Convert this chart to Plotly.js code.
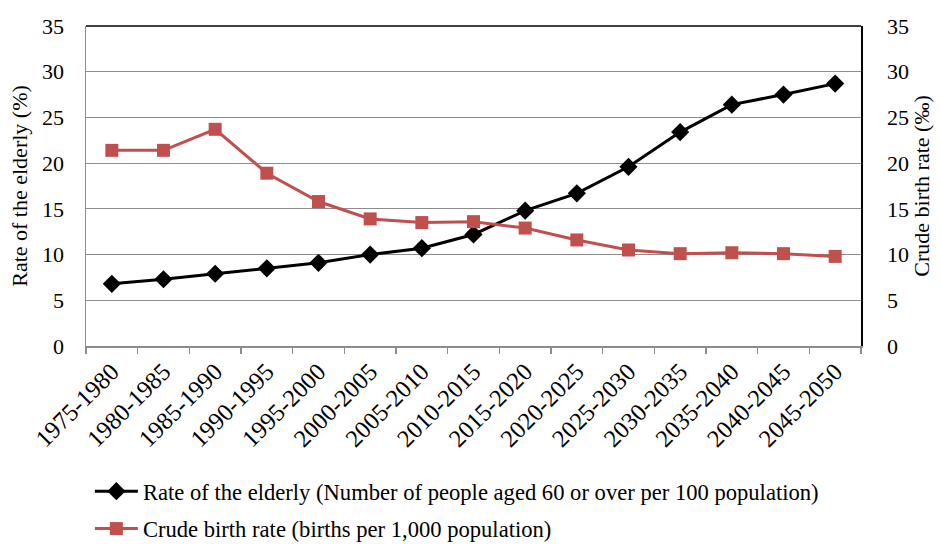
<!DOCTYPE html>
<html>
<head>
<meta charset="utf-8">
<script src="https://cdn.plot.ly/plotly-3.0.1.min.js"></script>
<style>
  html, body { margin: 0; padding: 0; background: #fff; }
  #chart { width: 941px; height: 544px; }
</style>
</head>
<body>
<div id="chart"></div>
<script>
// Five-year periods
const periods = [
  "1975-1980", "1980-1985", "1985-1990", "1990-1995", "1995-2000",
  "2000-2005", "2005-2010", "2010-2015", "2015-2020", "2020-2025",
  "2025-2030", "2030-2035", "2035-2040", "2040-2045", "2045-2050"
];

// People aged 60 or over per 100 population (%)
const elderlyRate = [6.8, 7.3, 7.9, 8.5, 9.1, 10.0, 10.7, 12.2, 14.8, 16.7, 19.6, 23.4, 26.4, 27.5, 28.7];

// Births per 1,000 population (‰)
const birthRate = [21.4, 21.4, 23.7, 18.9, 15.8, 13.9, 13.5, 13.6, 12.9, 11.6, 10.5, 10.1, 10.2, 10.1, 9.8];

const yTicks = [0, 5, 10, 15, 20, 25, 30, 35];

const serif = "Liberation Serif";
const txt = (size) => ({ family: serif, size: size, color: "#000000" });

const traces = [
  {
    x: periods,
    y: elderlyRate,
    name: "Rate of the elderly (Number of people aged 60 or over per 100 population)",
    legendgroup: "elderly",
    type: "scatter",
    mode: "lines+markers",
    line: { color: "#000000", width: 3 },
    marker: { symbol: "diamond", size: 14, color: "#000000" },
    yaxis: "y"
  },
  {
    x: periods,
    y: birthRate,
    name: "Crude birth rate (births per 1,000 population)",
    legendgroup: "birth",
    type: "scatter",
    mode: "lines+markers",
    line: { color: "#C0504D", width: 3 },
    marker: { symbol: "square", size: 13, color: "#C0504D" },
    yaxis: "y2"
  }
];

const layout = {
  width: 941,
  height: 544,
  margin: { l: 86, r: 80, t: 26, b: 198, autoexpand: false },
  paper_bgcolor: "#ffffff",
  plot_bgcolor: "#ffffff",
  font: txt(22),
  showlegend: true,
  legend: {
    orientation: "v",
    xref: "paper",
    x: 0.005,
    xanchor: "left",
    yref: "container",
    y: 0.136,
    yanchor: "top",
    font: txt(22.6),
    tracegroupgap: 5,
    itemwidth: 43,
    bgcolor: "rgba(0,0,0,0)"
  },
  xaxis: {
    type: "category",
    range: [-0.5, 14.5],
    automargin: false,
    tickangle: -45,
    ticks: "outside",
    tickson: "boundaries",
    ticklen: 6,
    tickcolor: "#8c8c8c",
    tickwidth: 1.5,
    showline: true,
    linecolor: "#8c8c8c",
    linewidth: 1.5,
    showgrid: false,
    zeroline: false,
    tickfont: txt(24.5)
  },
  yaxis: {
    range: [0, 35],
    tickvals: yTicks,
    automargin: false,
    ticks: "",
    ticklabelstandoff: 16,
    showline: true,
    linecolor: "#8c8c8c",
    linewidth: 1.5,
    showgrid: true,
    gridcolor: "#8c8c8c",
    gridwidth: 1.2,
    zeroline: false,
    tickfont: txt(22),
    title: { text: "Rate of the elderly (%)", font: txt(22), standoff: 8 }
  },
  yaxis2: {
    range: [0, 35],
    tickvals: yTicks,
    automargin: false,
    overlaying: "y",
    side: "right",
    ticks: "",
    ticklabelstandoff: 20,
    showline: true,
    linecolor: "#000000",
    linewidth: 1.5,
    showgrid: false,
    zeroline: false,
    tickfont: txt(22),
    title: { text: "Crude birth rate (‰)", font: txt(22), standoff: 5 }
  },
  shapes: [
    {
      type: "line", xref: "paper", yref: "paper",
      x0: 0, x1: 1, y0: 1, y1: 1,
      line: { color: "#000000", width: 1.5 }
    }
  ]
};

Plotly.newPlot("chart", traces, layout, { displayModeBar: false, staticPlot: true });
</script>
</body>
</html>
